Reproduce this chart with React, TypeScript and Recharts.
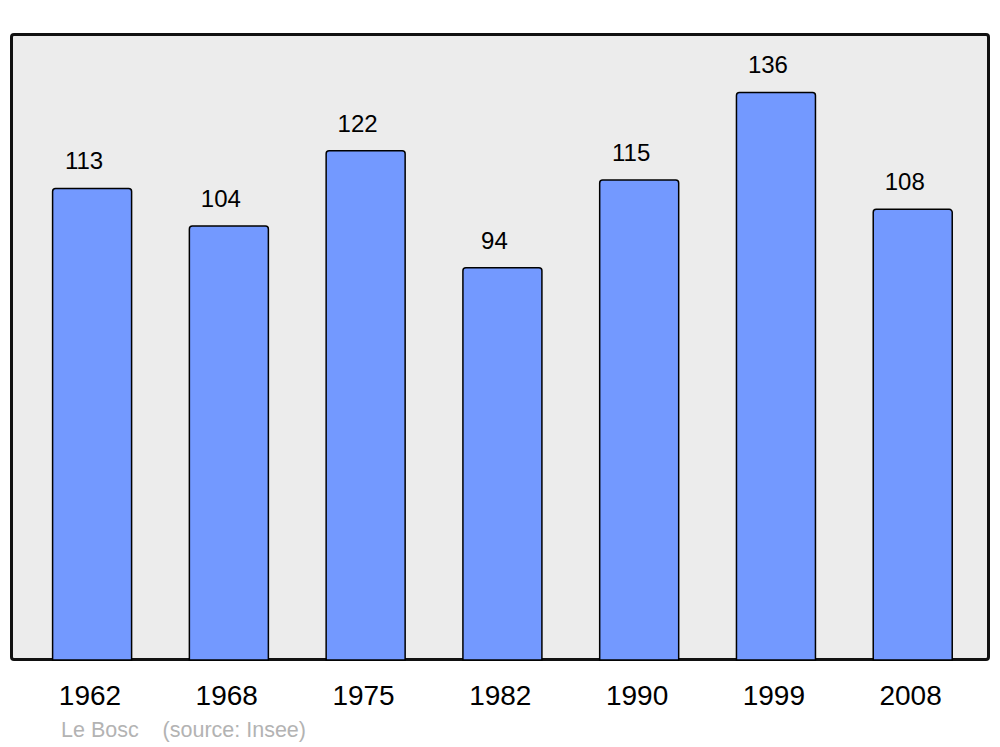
import React from "react";
import { BarChart, Bar, XAxis, YAxis, LabelList } from "recharts";

const years = ["1962", "1968", "1975", "1982", "1990", "1999", "2008"];
const population = [113, 104, 122, 94, 115, 136, 108];
const commune = "Le Bosc";
const source = "(source: Insee)";

const data = years.map((y, i) => ({ year: y, value: population[i] }));

const YearTick = (props: any) => {
  const { x, y, payload } = props;
  return (
    <text x={x - 2} y={y} dy={37} textAnchor="middle" fontSize={28} fill="#000" fontFamily="'Liberation Sans', Arial, sans-serif">
      {payload.value}
    </text>
  );
};

const ValueLabel = (props: any) => {
  const { x, y, width, value } = props;
  return (
    <text x={x + width / 2 - 8} y={y - 19} textAnchor="middle" fontSize={24} fill="#000" fontFamily="'Liberation Sans', Arial, sans-serif">
      {value}
    </text>
  );
};

export default function App() {
  return (
    <div style={{ position: "absolute", left: 0, top: 0, width: 1000, height: 747, background: "#fff", fontFamily: "'Liberation Sans', Arial, sans-serif" }}>
      <div
        style={{
          position: "absolute",
          left: 10,
          top: 33,
          width: 980,
          height: 628,
          boxSizing: "border-box",
          border: "3px solid #111",
          borderRadius: 4,
          background: "#ececec",
        }}
      />
      <div style={{ position: "absolute", left: 0, top: 0 }}>
        <BarChart width={1000} height={747} data={data} margin={{ top: 34, right: 11, left: 11, bottom: 47 }} barCategoryGap={0}>
          <XAxis dataKey="year" axisLine={false} tickLine={false} height={40} padding={{ left: 12.6, right: 8 }} tick={<YearTick />} interval={0} />
          <YAxis hide domain={[0, 150]} />
          <Bar dataKey="value" fill="#7399ff" stroke="#000" strokeWidth={1.5} barSize={79} radius={[3, 3, 0, 0]} isAnimationActive={false}>
            <LabelList dataKey="value" content={<ValueLabel />} />
          </Bar>
        </BarChart>
      </div>
      <div style={{ position: "absolute", left: 61, top: 718, fontSize: 21.5, color: "#b3b3b3", whiteSpace: "pre" }}>
        {commune + "    " + source}
      </div>
    </div>
  );
}
